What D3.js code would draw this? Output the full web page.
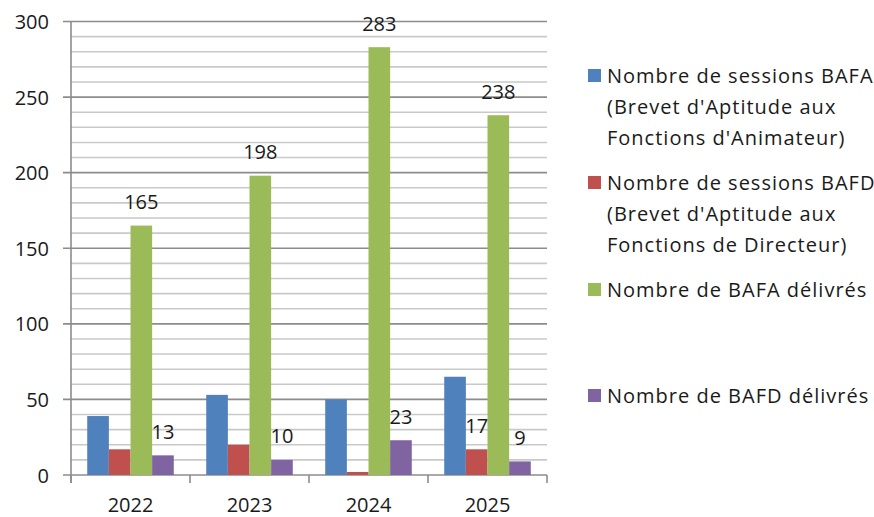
<!DOCTYPE html>
<html><head><meta charset="utf-8">
<script src="https://cdn.jsdelivr.net/npm/d3@7"></script>
<style>body{margin:0;background:#fff}svg{display:block}text{font-family:"Open Sans","Noto Sans",sans-serif;fill:#1a1a1a}</style>
</head><body><svg id="c" width="874" height="517"></svg>
<script>
const years = ["2022","2023","2024","2025"];
const seriesNames = [
  ["Nombre de sessions BAFA","(Brevet d'Aptitude aux","Fonctions d'Animateur)"],
  ["Nombre de sessions BAFD","(Brevet d'Aptitude aux","Fonctions de Directeur)"],
  ["Nombre de BAFA délivrés"],
  ["Nombre de BAFD délivrés"]
];
const sessionsBAFA = [39, 53, 50, 65];
const sessionsBAFD = [17, 20, 2, 17];
const bafaDelivres = [165, 198, 283, 238];
const bafdDelivres = [13, 10, 23, 9];
const labelsShown = [
  [false,false,false,false],
  [false,false,false,true],
  [true,true,true,true],
  [true,true,true,true]
];
const colors = ["#4F81BD","#C0504D","#9BBB59","#8064A2"];
const yTicks = [0,50,100,150,200,250,300];

const series = [sessionsBAFA, sessionsBAFD, bafaDelivres, bafdDelivres];
const svg = d3.select("#c");
const L = 71, R = 547, T = 21.5, B = 475;
const y = d3.scaleLinear().domain([0,300]).range([B,T]);
const x0 = d3.scaleBand().domain(years).range([L,R]).paddingInner(0);
// gap width 150%: band = 5.5 bar widths
const bw = x0.bandwidth()/5.5;
const x1 = d3.scaleBand().domain(d3.range(4)).range([0.75*bw, x0.bandwidth()-0.75*bw]).padding(0);

const g = svg.append("g");
d3.range(0,301,10).filter(v=>v%50!==0).forEach(v=>{
  g.append("line").attr("x1",L).attr("x2",R).attr("y1",y(v)).attr("y2",y(v))
   .attr("stroke","#c9c9c9").attr("stroke-width",1.6);
});
yTicks.forEach(v=>{
  g.append("line").attr("x1",L-8).attr("x2",R).attr("y1",y(v)).attr("y2",y(v))
   .attr("stroke","#8c8c8c").attr("stroke-width",1.6);
});
g.append("line").attr("x1",L).attr("x2",L).attr("y1",T).attr("y2",B+8).attr("stroke","#8c8c8c").attr("stroke-width",1.6);
years.concat(["end"]).forEach((d,i)=>{
  const xx = L + i*x0.bandwidth();
  g.append("line").attr("x1",xx).attr("x2",xx).attr("y1",B).attr("y2",B+8).attr("stroke","#8c8c8c").attr("stroke-width",1.6);
});
yTicks.forEach(v=>{
  svg.append("text").attr("x",49).attr("y",y(v)).attr("text-anchor","end").attr("dominant-baseline","central")
    .attr("font-size",20).text(v);
});
years.forEach(yr=>{
  svg.append("text").attr("x",x0(yr)+x0.bandwidth()/2).attr("y",504).attr("text-anchor","middle").attr("dominant-baseline","central")
    .attr("font-size",20).text(yr);
});
series.forEach((vals,si)=>{
  vals.forEach((v,yi)=>{
    const bx = x0(years[yi]) + x1(si);
    svg.append("rect").attr("x",bx).attr("y",y(v)).attr("width",x1.bandwidth()).attr("height",B-y(v)).attr("fill",colors[si]);
  });
});
series.forEach((vals,si)=>{
  vals.forEach((v,yi)=>{
    if(!labelsShown[si][yi]) return;
    const bx = x0(years[yi]) + x1(si) + x1.bandwidth()/2;
    svg.append("text").attr("x",bx).attr("y",y(v)-24).attr("text-anchor","middle").attr("dominant-baseline","central")
      .attr("font-size",20).text(v);
  });
});
const legY = [75,182,289,395];
seriesNames.forEach((lines,si)=>{
  svg.append("rect").attr("x",588).attr("y",legY[si]-6).attr("width",13).attr("height",13).attr("fill",colors[si]);
  lines.forEach((ln,li)=>{
    svg.append("text").attr("x",607).attr("y",legY[si]+li*31).attr("dominant-baseline","central")
      .attr("font-size",20).attr("letter-spacing",1.0).text(ln);
  });
});
</script></body></html>
